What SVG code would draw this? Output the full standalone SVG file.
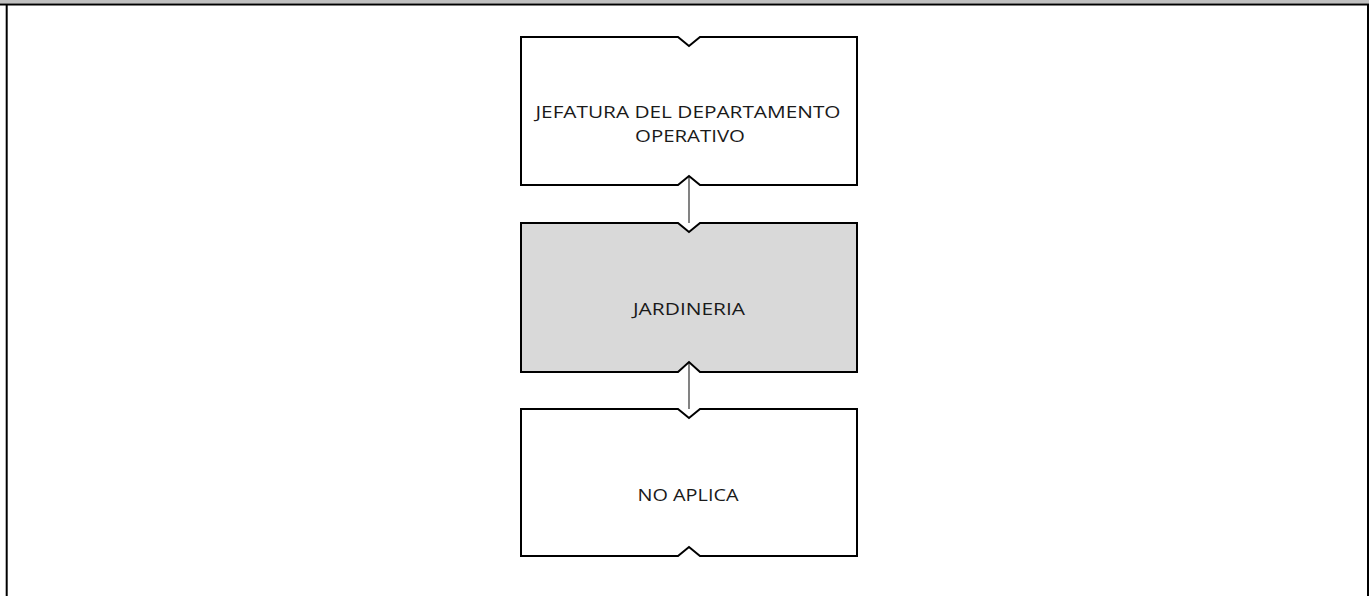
<svg xmlns="http://www.w3.org/2000/svg" width="1369" height="596" viewBox="0 0 1369 596">
<style>
.box{fill:#ffffff;stroke:#000000;stroke-width:2;stroke-linejoin:miter}
.gray{fill:#d9d9d9}
.lbl{font-family:"Open Sans","Liberation Sans",sans-serif;font-size:16px;fill:#1a1a1a;text-anchor:middle}
.con{stroke:#303030;stroke-width:1.2;fill:none}
</style>
<rect x="0" y="0" width="1369" height="596" fill="#ffffff"/>
<rect x="0" y="0" width="1369" height="3.5" fill="#c0c0c0"/>
<line x1="0" y1="4.5" x2="1369" y2="4.5" stroke="#000" stroke-width="2"/>
<line x1="6.7" y1="4" x2="6.7" y2="596" stroke="#000" stroke-width="2"/>
<line x1="1368" y1="4" x2="1368" y2="596" stroke="#000" stroke-width="2"/>
<g id="connectors">
<line class="con" x1="689" y1="176" x2="689" y2="223"/>
<line class="con" x1="689" y1="362" x2="689" y2="409"/>
</g>
<g id="node-jefatura">
<path class="box" d="M521,37 H678 L689,46 L700,37 H857 V185 H700 L689,176 L678,185 H521 Z"/>
<text class="lbl" x="688" y="118" textLength="305" lengthAdjust="spacingAndGlyphs">JEFATURA DEL DEPARTAMENTO</text>
<text class="lbl" x="690" y="142" textLength="110" lengthAdjust="spacingAndGlyphs">OPERATIVO</text>
</g>
<g id="node-jardineria">
<path class="box gray" d="M521,223 H678 L689,232 L700,223 H857 V372 H700 L689,362 L678,372 H521 Z"/>
<text class="lbl" x="689" y="315" textLength="112" lengthAdjust="spacingAndGlyphs">JARDINERIA</text>
</g>
<g id="node-noaplica">
<path class="box" d="M521,409 H678 L689,418 L700,409 H857 V556 H700 L689,547 L678,556 H521 Z"/>
<text class="lbl" x="688" y="501" textLength="101" lengthAdjust="spacingAndGlyphs">NO APLICA</text>
</g>
</svg>
